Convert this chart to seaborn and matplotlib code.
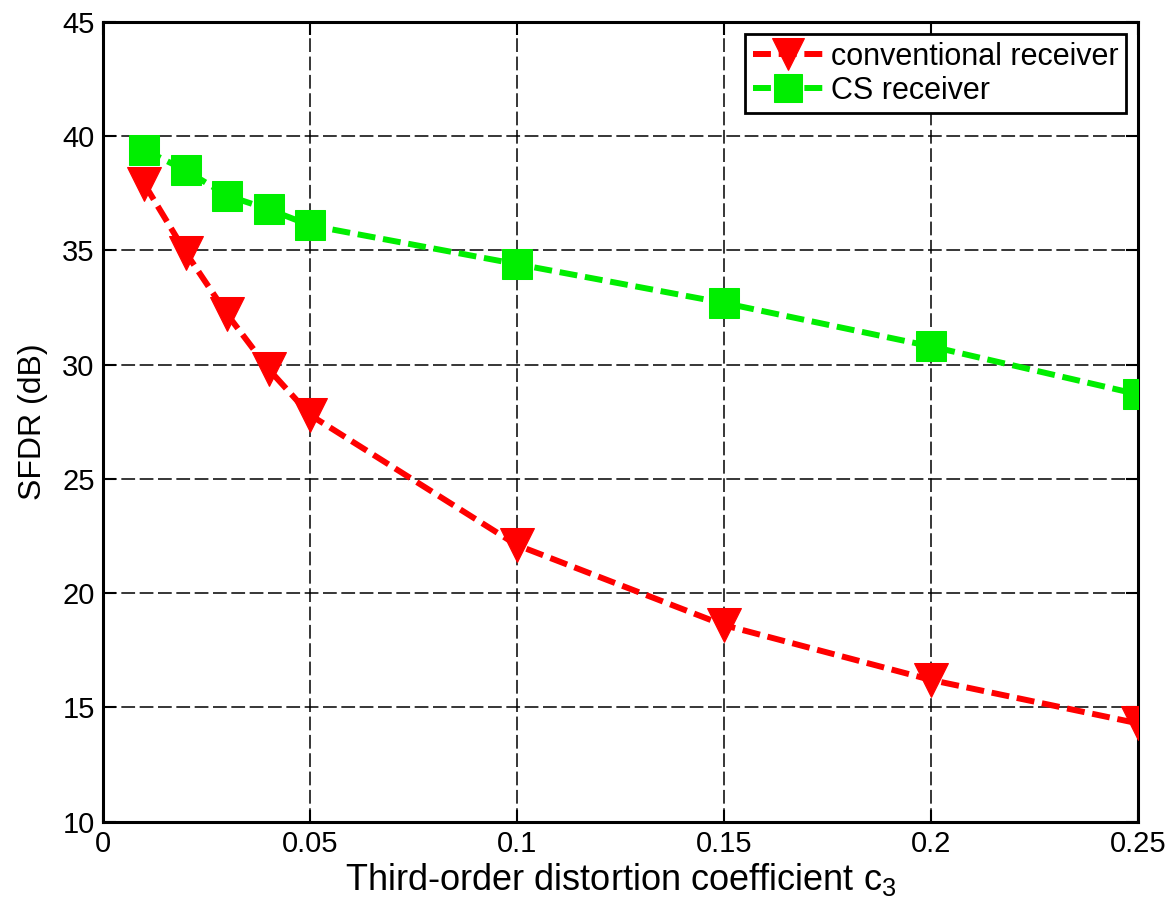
import matplotlib
matplotlib.use("Agg")
import matplotlib.pyplot as plt
import seaborn as sns
import pandas as pd

c3 = [0.01, 0.02, 0.03, 0.04, 0.05, 0.10, 0.15, 0.20, 0.25]
sfdr_conventional = [37.9, 34.9, 32.2, 29.8, 27.8, 22.1, 18.6, 16.2, 14.3]
sfdr_cs = [39.4, 38.5, 37.4, 36.8, 36.1, 34.4, 32.7, 30.8, 28.7]
series_names = ["conventional receiver", "CS receiver"]
x_ticks = [0, 0.05, 0.1, 0.15, 0.2, 0.25]
x_tick_labels = ["0", "0.05", "0.1", "0.15", "0.2", "0.25"]
y_ticks = [10, 15, 20, 25, 30, 35, 40, 45]

sns.set_theme(style="white")
plt.rcParams['font.family'] = ['Liberation Sans', 'DejaVu Sans']
plt.rcParams['text.color'] = 'black'
plt.rcParams['axes.labelcolor'] = 'black'
plt.rcParams['xtick.color'] = 'black'
plt.rcParams['ytick.color'] = 'black'
plt.rcParams['mathtext.fontset'] = 'custom'
plt.rcParams['mathtext.rm'] = 'Liberation Sans'
plt.rcParams['mathtext.it'] = 'Liberation Sans'

fig = plt.figure(figsize=(11.71, 9.16), dpi=100)
ax = fig.add_axes([0.088, 0.103, 0.884, 0.873])

df_conv = pd.DataFrame({"c3": c3, "SFDR": sfdr_conventional})
df_cs = pd.DataFrame({"c3": c3, "SFDR": sfdr_cs})

sns.lineplot(data=df_conv, x="c3", y="SFDR", ax=ax, color="#ff0000",
             marker="v", markersize=25, markeredgecolor="#ff0000",
             linewidth=4.3, label=series_names[0], zorder=4)
sns.lineplot(data=df_cs, x="c3", y="SFDR", ax=ax, color="#00ee00",
             marker="s", markersize=21, markeredgecolor="#00ee00",
             linewidth=4.3, label=series_names[1], zorder=3)
for ln in ax.lines:
    ln.set_linestyle((0, (3.0, 1.3)))

ax.set_xlim(0, 0.25)
ax.set_ylim(10, 45)
ax.set_xticks(x_ticks)
ax.set_xticklabels(x_tick_labels)
ax.set_yticks(y_ticks)
ax.tick_params(direction="in", length=9, width=1.5, colors="black",
               labelcolor="black", labelsize=21,
               top=True, right=True, bottom=True, left=True, pad=6)

ax.grid(True, color="black", linestyle=(0, (9, 3)), linewidth=1.1)
for sp in ax.spines.values():
    sp.set_visible(True)
    sp.set_color("black")
    sp.set_linewidth(2.2)

ax.set_xlabel("Third-order distortion coefficient c$_3$", fontsize=26,
              color="black", labelpad=2)
ax.set_ylabel("SFDR (dB)", fontsize=23, color="black", labelpad=10)

leg = ax.legend(loc="upper right", fontsize=22, frameon=True, fancybox=False,
                edgecolor="black", framealpha=1, handlelength=2.3,
                borderpad=0.25, labelspacing=0.12, handletextpad=0.25,
                borderaxespad=0.4, markerscale=0.95)
leg.get_frame().set_linewidth(2)
for t in leg.get_texts():
    t.set_color("black")

fig.savefig("out.png", dpi=100)
